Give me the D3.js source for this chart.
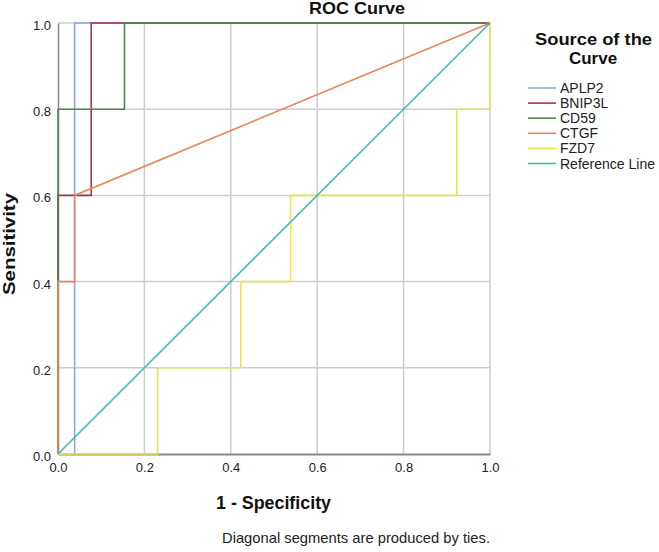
<!DOCTYPE html>
<html><head><meta charset="utf-8">
<script src="https://cdn.jsdelivr.net/npm/d3@7"></script>
<style>body{margin:0;background:#fff}svg{font-family:"Liberation Sans",Arial,sans-serif}</style>
</head><body><svg id="c" width="659" height="552"></svg>
<script>
const seriesNames = ["APLP2","BNIP3L","CD59","CTGF","FZD7","Reference Line"];
const seriesColors = ["#8fa8dc","#a83250","#4a884d","#e8875e","#e6e651","#3dbdad"];
const APLP2 = [[0,0],[1/26,0],[1/26,1],[1,1]];
const BNIP3L = [[0,0],[0,0.6],[2/26,0.6],[2/26,1],[1,1]];
const CD59 = [[0,0],[0,0.8],[4/26,0.8],[4/26,1],[1,1]];
const CTGF = [[0,0],[0,0.4],[1/26,0.4],[1/26,0.6],[1,1]];
const FZD7 = [[0,0],[6/26,0],[6/26,0.2],[11/26,0.2],[11/26,0.4],[14/26,0.4],[14/26,0.6],[24/26,0.6],[24/26,0.8],[1,0.8],[1,1]];
const RefLine = [[0,0],[1,1]];
const seriesData = [APLP2,BNIP3L,CD59,CTGF,FZD7,RefLine];
const tickValues = [0,0.2,0.4,0.6,0.8,1.0];

const svg = d3.select("#c");
const L=58,R=490,T=23,B=454;
const x = d3.scaleLinear().domain([0,1]).range([L,R]);
const y = d3.scaleLinear().domain([0,1]).range([B,T]);

// grid
const g = svg.append("g");
g.selectAll(".gx").data(tickValues.slice(1)).enter().append("line")
 .attr("x1",d=>x(d)).attr("x2",d=>x(d)).attr("y1",T).attr("y2",B)
 .attr("stroke","#cdcdcd").attr("stroke-width",1.5);
g.selectAll(".gy").data(tickValues.slice(1)).enter().append("line")
 .attr("y1",d=>y(d)).attr("y2",d=>y(d)).attr("x1",L).attr("x2",R)
 .attr("stroke","#cdcdcd").attr("stroke-width",1.5);

// axes
const xa = svg.append("g").attr("transform",`translate(0,${B})`)
 .call(d3.axisBottom(x).tickValues(tickValues).tickFormat(d3.format(".1f")).tickSize(0).tickPadding(9));
xa.select(".domain").attr("stroke","#888").attr("stroke-width",2);
xa.selectAll("text").attr("font-size",13).attr("fill","#222").attr("font-family","Liberation Sans, Arial, sans-serif");
const ya = svg.append("g").attr("transform",`translate(${L},0)`)
 .call(d3.axisLeft(y).tickValues(tickValues).tickFormat(d3.format(".1f")).tickSize(0).tickPadding(7));
ya.select(".domain").attr("stroke","#888").attr("stroke-width",1.5);
ya.selectAll("text").attr("font-size",13).attr("fill","#222").attr("dy","0.5em").attr("font-family","Liberation Sans, Arial, sans-serif");

// curves
const line = d3.line().x(d=>x(d[0])).y(d=>y(d[1]));
seriesData.forEach((s,i)=>{
  svg.append("path").datum(s).attr("d",line).attr("fill","none")
   .attr("stroke",seriesColors[i]).attr("stroke-width",1.6);
});

// titles
svg.append("text").attr("x",309).attr("y",14).attr("textLength",96).attr("lengthAdjust","spacingAndGlyphs")
 .attr("font-size",17).attr("font-weight","bold").attr("fill","#111").text("ROC Curve");
svg.append("text").attr("x",216).attr("y",509).attr("textLength",115).attr("lengthAdjust","spacingAndGlyphs")
 .attr("font-size",18).attr("font-weight","bold").attr("fill","#111").text("1 - Specificity");
svg.append("text").attr("transform","translate(15,295) rotate(-90)").attr("textLength",102).attr("lengthAdjust","spacingAndGlyphs")
 .attr("font-size",17).attr("font-weight","bold").attr("fill","#111").text("Sensitivity");
svg.append("text").attr("x",222).attr("y",543).attr("textLength",268).attr("lengthAdjust","spacingAndGlyphs")
 .attr("font-size",14.5).attr("fill","#222").text("Diagonal segments are produced by ties.");

// legend
svg.append("text").attr("x",535).attr("y",45).attr("textLength",117).attr("lengthAdjust","spacingAndGlyphs")
 .attr("font-size",17).attr("font-weight","bold").attr("fill","#111").text("Source of the");
svg.append("text").attr("x",593).attr("y",64).attr("text-anchor","middle")
 .attr("font-size",17).attr("font-weight","bold").attr("fill","#111").text("Curve");
const lg = svg.append("g");
seriesNames.forEach((n,i)=>{
  const yy = 88 + i*15.1;
  lg.append("line").attr("x1",528).attr("x2",556).attr("y1",yy).attr("y2",yy)
   .attr("stroke",seriesColors[i]).attr("stroke-width",1.6);
  lg.append("text").attr("x",560).attr("y",yy+5).attr("font-size",14).attr("fill","#222").text(n);
});
</script></body></html>
